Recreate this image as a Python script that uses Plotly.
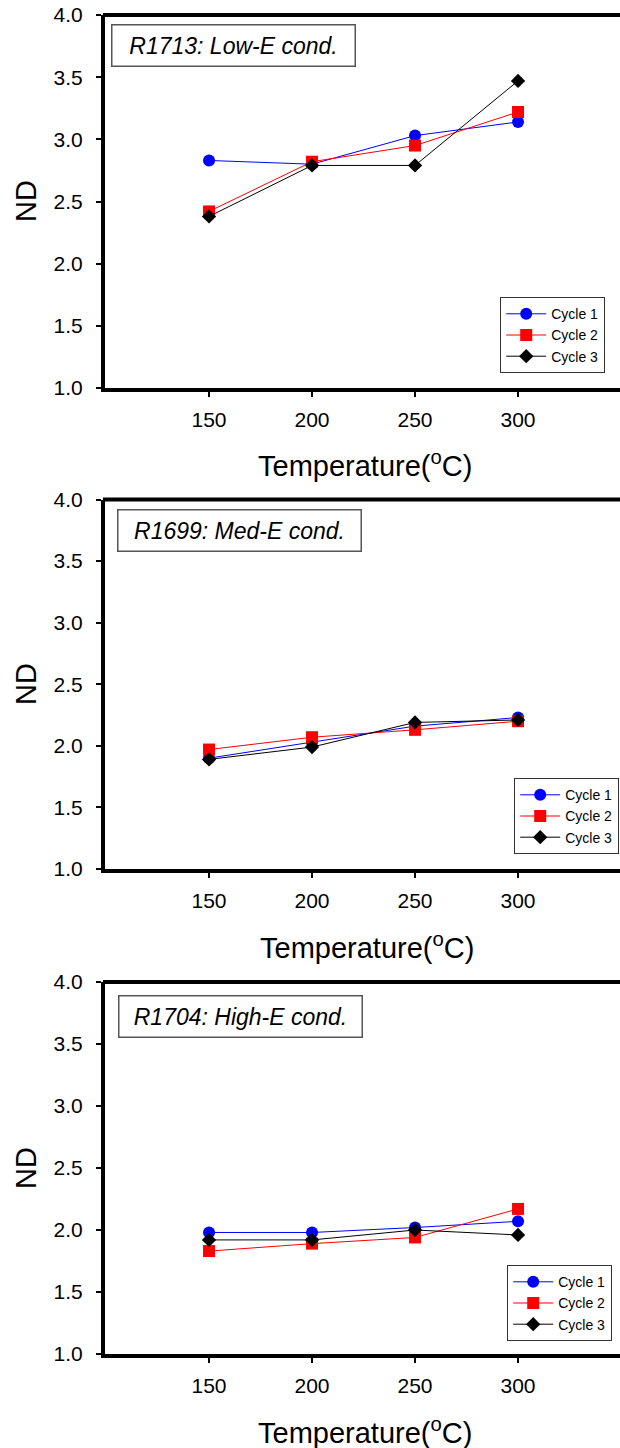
import plotly.graph_objects as go

W, H = 620, 1448

temps = [150, 200, 250, 300]
tick_vals_y = [1.0, 1.5, 2.0, 2.5, 3.0, 3.5, 4.0]
cycle_names = ["Cycle 1", "Cycle 2", "Cycle 3"]

# Panel 1: R1713 Low-E
low_c1 = [2.83, 2.80, 3.03, 3.14]
low_c2 = [2.42, 2.82, 2.95, 3.22]
low_c3 = [2.38, 2.79, 2.79, 3.47]
# Panel 2: R1699 Med-E
med_c1 = [1.90, 2.03, 2.16, 2.23]
med_c2 = [1.97, 2.07, 2.13, 2.20]
med_c3 = [1.89, 1.99, 2.19, 2.21]
# Panel 3: R1704 High-E
high_c1 = [1.98, 1.98, 2.02, 2.07]
high_c2 = [1.83, 1.89, 1.94, 2.17]
high_c3 = [1.92, 1.92, 2.00, 1.96]

panel_labels = ["R1713: Low-E cond.", "R1699: Med-E cond.", "R1704: High-E cond."]
panel_data = [
    [low_c1, low_c2, low_c3],
    [med_c1, med_c2, med_c3],
    [high_c1, high_c2, high_c3],
]

colors = ["#0000FF", "#FF0000", "#000000"]
symbols = ["circle", "square", "diamond"]
msizes = [12, 12, 11]

FONT = "Liberation Sans, Arial, sans-serif"

def px(x):
    return x / W

def py(y):
    return 1 - y / H

# pixel geometry of each panel (top, bottom) of plotting box
panels_px = [(15, 388), (499.5, 869), (982, 1354)]
legend_px = [(500, 297), (514, 778), (507, 1265)]
box_px = [(233.5, 45.3), (239, 530.5), (240.5, 1016.5)]
xtitle_px = [(365, 464), (367, 946), (365, 1431)]
ytitle_px = [(26, 201), (26, 684), (26, 1168)]
x_left = 105

fig = go.Figure()
layout = dict(
    width=W, height=H,
    margin=dict(l=0, r=0, t=0, b=0, autoexpand=False),
    paper_bgcolor="white", plot_bgcolor="white",
    font=dict(family=FONT, color="black"),
    showlegend=True,
)
annotations = []
shapes = []

for i, data in enumerate(panel_data):
    k = "" if i == 0 else str(i + 1)
    xa, ya = "x" + k, "y" + k
    leg = "legend" + k
    for j, vals in enumerate(data):
        fig.add_trace(go.Scatter(
            x=temps, y=vals, mode="lines+markers", name=cycle_names[j],
            xaxis=xa, yaxis=ya, legend=leg,
            line=dict(color=colors[j], width=1),
            marker=dict(symbol=symbols[j], size=msizes[j], color=colors[j]),
        ))
    top, bot = panels_px[i]
    layout["xaxis" + k] = dict(
        domain=[px(x_left), 1.0], anchor=ya, range=[99.5, 349.5],
        tickvals=temps, ticktext=[str(t) for t in temps],
        ticks="outside", ticklen=5, tickwidth=1.5, tickcolor="black",
        showline=True, linewidth=4, linecolor="black", mirror=False,
        showgrid=False, zeroline=False, automargin=False,
        tickfont=dict(size=21, family=FONT, color="black"),
        ticklabelstandoff=5,
    )
    layout["yaxis" + k] = dict(
        domain=[py(bot), py(top)], anchor=xa, range=[1.0, 4.0],
        tickvals=tick_vals_y, tickformat=".1f",
        ticks="outside", ticklen=5, tickwidth=1.5, tickcolor="black",
        showline=True, linewidth=4, linecolor="black", mirror=False,
        showgrid=False, zeroline=False, automargin=False,
        tickfont=dict(size=21, family=FONT, color="black"),
        ticklabelstandoff=9,
    )
    lx, ly = legend_px[i]
    layout[leg] = dict(
        x=px(lx), y=py(ly), xanchor="left", yanchor="top",
        bgcolor="white", bordercolor="#333333", borderwidth=1.2,
        font=dict(size=14, family=FONT, color="black"),
        tracegroupgap=0, itemwidth=40,
    )
    shapes.append(dict(
        type="line", xref=xa + " domain", yref=ya + " domain",
        x0=-0.004, x1=1.0, y0=1, y1=1,
        line=dict(color="black", width=4),
    ))
    bx, by = box_px[i]
    annotations.append(dict(
        x=px(bx), y=py(by), xref="paper", yref="paper",
        text="<i>" + panel_labels[i] + "</i>", showarrow=False,
        font=dict(size=23, family=FONT, color="black"),
        width=242, height=40, borderpad=0, borderwidth=1.5,
        bordercolor="#555555", bgcolor="white", align="center",
        xanchor="center", yanchor="middle",
    ))
    tx, ty = xtitle_px[i]
    annotations.append(dict(
        x=px(tx), y=py(ty), xref="paper", yref="paper",
        text="Temperature(<sup>o</sup>C)", showarrow=False,
        font=dict(size=29, family=FONT, color="black"),
        xanchor="center", yanchor="middle",
    ))
    yx, yy = ytitle_px[i]
    annotations.append(dict(
        x=px(yx), y=py(yy), xref="paper", yref="paper",
        text="ND", showarrow=False, textangle=-90,
        font=dict(size=29, family=FONT, color="black"),
        xanchor="center", yanchor="middle",
    ))

layout["annotations"] = annotations
layout["shapes"] = shapes
fig.update_layout(**layout)
fig.write_html("out.html")
